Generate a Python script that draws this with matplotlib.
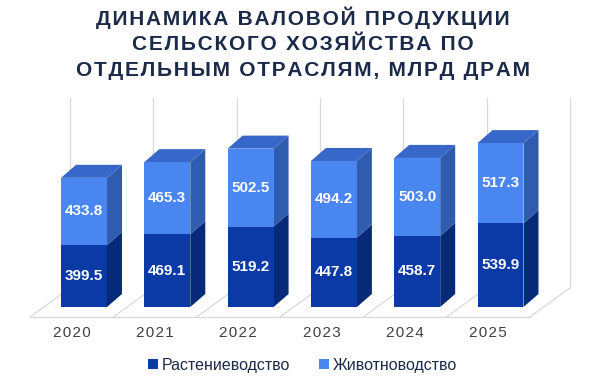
import matplotlib.pyplot as plt
from matplotlib.patches import Polygon
import numpy as np

plt.rcParams['font.family'] = ['Liberation Sans', 'DejaVu Sans']

years = ['2020', '2021', '2022', '2023', '2024', '2025']
crops = [399.5, 469.1, 519.2, 447.8, 458.7, 539.9]       # Растениеводство
livestock = [433.8, 465.3, 502.5, 494.2, 503.0, 517.3]   # Животноводство

title_lines = ['ДИНАМИКА ВАЛОВОЙ ПРОДУКЦИИ',
               'СЕЛЬСКОГО ХОЗЯЙСТВА ПО',
               'ОТДЕЛЬНЫМ ОТРАСЛЯМ, МЛРД ДРАМ']

dark_front, dark_side = '#0b3aa6', '#062a78'
light_front, light_side, light_top = '#4a86f0', '#2f5cae', '#3767c8'
grid_col = '#d9d9d9'

# pseudo-3d geometry (in data units)
bar_w = 0.552
bar_dx, bar_dy = 0.18, 84
floor_shift = -0.148          # floor front relative to bar front
floor_y0 = -64.5
floor_dx, floor_dy = 0.48, 187
wall_top = 1348


def spaced(s, sep='\u200a'):
    return sep.join(s)


fig = plt.figure(figsize=(6.05, 3.82), dpi=100)
ax = fig.add_axes([0, 0, 1, 1])
ax.set_xlim(-1.0084, 6.2545)
ax.set_ylim(-483.9, 1980.6)
ax.axis('off')

x = np.arange(len(years))
n = len(years)

# floor and back wall
edges = np.arange(n + 1) - 0.5 + floor_shift
for e in edges:
    ax.plot([e, e + floor_dx], [floor_y0, floor_y0 + floor_dy], color=grid_col, lw=0.9, zorder=1)
    ax.plot([e + floor_dx, e + floor_dx], [floor_y0 + floor_dy, wall_top], color=grid_col, lw=0.9, zorder=1)
ax.plot([edges[0], edges[-1]], [floor_y0, floor_y0], color=grid_col, lw=0.9, zorder=1)


def box(x0, y0, h, side, top=None):
    x1 = x0 + bar_w
    y1 = y0 + h
    ax.add_patch(Polygon([(x1, y0), (x1 + bar_dx, y0 + bar_dy), (x1 + bar_dx, y1 + bar_dy), (x1, y1)],
                         closed=True, facecolor=side, edgecolor='none', zorder=3))
    if top is not None:
        ax.add_patch(Polygon([(x0, y1), (x0 + bar_dx, y1 + bar_dy), (x1 + bar_dx, y1 + bar_dy), (x1, y1)],
                             closed=True, facecolor=top, edgecolor='none', zorder=3))


b1 = ax.bar(x, crops, width=bar_w, color=dark_front, zorder=4, label='Растениеводство')
b2 = ax.bar(x, livestock, width=bar_w, bottom=crops, color=light_front, zorder=4, label='Животноводство')

for i in range(n):
    x0 = x[i] - bar_w / 2
    box(x0, 0, crops[i], dark_side)
    box(x0, crops[i], livestock[i], light_side, light_top)
    ax.text(x[i], crops[i] / 2, f'{crops[i]:.1f}', ha='center', va='center',
            color='white', fontsize=11, fontweight='bold', zorder=5)
    ax.text(x[i], crops[i] + livestock[i] / 2, f'{livestock[i]:.1f}', ha='center', va='center',
            color='white', fontsize=11, fontweight='bold', zorder=5)
    ax.text(x[i] + floor_shift, -168, spaced(years[i]), ha='center', va='center',
            color='#404040', fontsize=11, zorder=5)

for k, line in enumerate(title_lines):
    fig.text(0.5, 1 - (18 + 26 * k) / 382, spaced(line), ha='center', va='center',
             fontsize=15, fontweight='bold', color='#1c2a4a')

leg = ax.legend(handles=[b1, b2], loc='center', bbox_to_anchor=(0.5, 0.044), ncol=2,
                frameon=False, fontsize=11.5, handlelength=0.6, handleheight=0.6,
                handletextpad=0.25, columnspacing=1.8, labelcolor='#1c2a4a')

fig.savefig('out.png', dpi=100)
